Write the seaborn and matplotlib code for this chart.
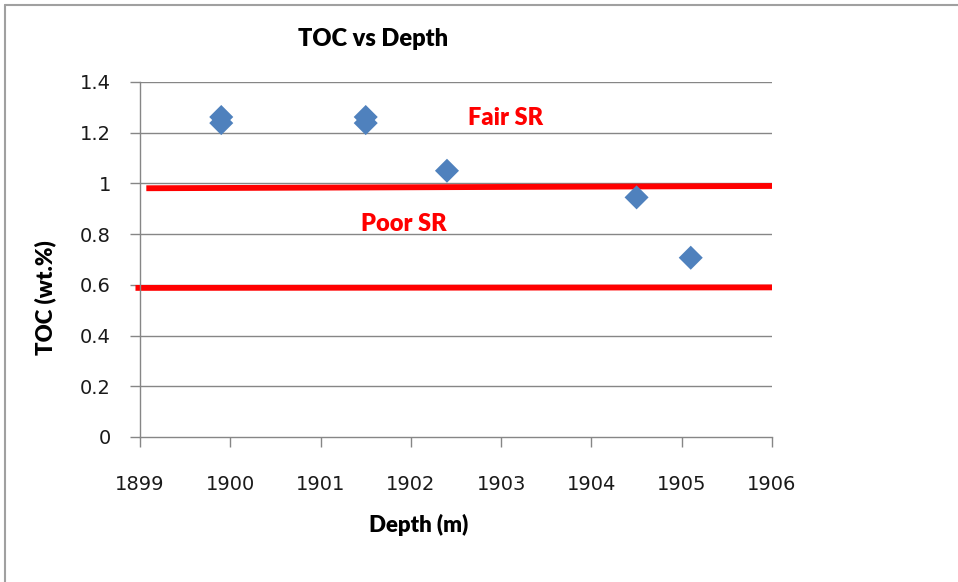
import matplotlib
matplotlib.use("Agg")
import matplotlib.pyplot as plt
import seaborn as sns
import pandas as pd
from matplotlib.lines import Line2D

# Data
depth = [1899.9, 1899.9, 1901.5, 1901.5, 1902.4, 1904.5, 1905.1]
toc = [1.262, 1.238, 1.262, 1.238, 1.05, 0.945, 0.707]
fair_line_x = [1899.07, 1906.0]
fair_line_y = [0.981, 0.990]
poor_line_x = [1898.95, 1906.0]
poor_line_y = [0.588, 0.590]
x_ticks = [1899, 1900, 1901, 1902, 1903, 1904, 1905, 1906]
y_ticks = [0, 0.2, 0.4, 0.6, 0.8, 1.0, 1.2, 1.4]
y_tick_labels = ["0", "0.2", "0.4", "0.6", "0.8", "1", "1.2", "1.4"]

df = pd.DataFrame({"Depth": depth, "TOC": toc})

sns.set_style("white")
plt.rcParams['font.family'] = ['DejaVu Sans']

fig = plt.figure(figsize=(9.58, 5.82), dpi=100)
ax = fig.add_axes([140/958, 1 - 437/582, 632/958, 355/582])

gray = "#868686"
for yv in y_ticks[1:]:
    ax.axhline(yv, color=gray, lw=1.0, zorder=0)

ax.plot(fair_line_x, fair_line_y, color="#ff0000", lw=4.2, zorder=2, clip_on=False, solid_capstyle="butt")
ax.plot(poor_line_x, poor_line_y, color="#ff0000", lw=4.2, zorder=2, clip_on=False, solid_capstyle="butt")

sns.scatterplot(data=df, x="Depth", y="TOC", marker="D", s=150, color="#4F81BD",
                edgecolor="none", ax=ax, zorder=3, clip_on=False)

ax.set_xlim(1899, 1906)
ax.set_ylim(0, 1.4)
ax.set_xticks(x_ticks)
ax.set_xticklabels([str(t) for t in x_ticks], fontfamily="DejaVu Sans")
ax.set_yticks(y_ticks)
ax.set_yticklabels(y_tick_labels, fontfamily="DejaVu Sans")

for s in ["top", "right"]:
    ax.spines[s].set_visible(False)
for s in ["left", "bottom"]:
    ax.spines[s].set_color(gray)
    ax.spines[s].set_linewidth(1.0)

ax.tick_params(axis="both", direction="out", length=7, width=1, color=gray,
               labelsize=14, labelcolor="#1a1a1a", bottom=True, left=True)
ax.tick_params(axis="x", pad=20)
ax.tick_params(axis="y", pad=14)

ax.set_xlabel("")
ax.set_ylabel("")

bold = dict(family=["Lato", "DejaVu Sans"], fontweight="heavy")
fig.text(373/958, 1 - 39/582, "TOC vs Depth", ha="center", va="center", fontsize=17, color="black", **bold)
fig.text(419/958, 1 - 525/582, "Depth (m)", ha="center", va="center", fontsize=16, color="black", **bold)
fig.text(45/958, 1 - 298/582, "TOC (wt.%)", ha="center", va="center", rotation=90, fontsize=16, color="black", **bold)

ax.text(1903.05, 1.258, "Fair SR", ha="center", va="center", fontsize=17, color="#ff0000", **bold)
ax.text(1901.92, 0.84, "Poor SR", ha="center", va="center", fontsize=17, color="#ff0000", **bold)

# outer frame (top and left edges visible)
fig.add_artist(Line2D([5/958, 5/958], [0, 1 - 5/582], transform=fig.transFigure, color="#a0a0a0", lw=1.5))
fig.add_artist(Line2D([5/958, 1], [1 - 5/582, 1 - 5/582], transform=fig.transFigure, color="#a0a0a0", lw=1.5))

fig.savefig("out.png", dpi=100)
